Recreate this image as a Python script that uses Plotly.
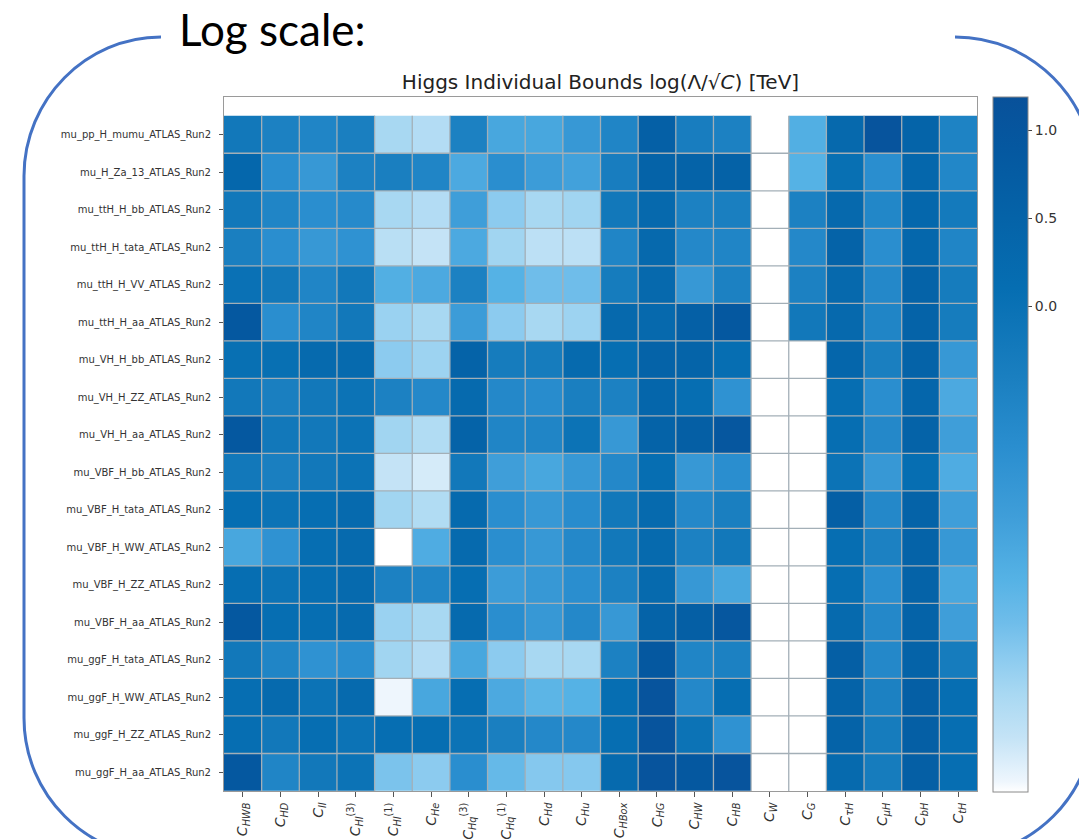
import plotly.graph_objects as go

# ---------------- data ----------------
rows = [
    "mu_pp_H_mumu_ATLAS_Run2", "mu_H_Za_13_ATLAS_Run2", "mu_ttH_H_bb_ATLAS_Run2",
    "mu_ttH_H_tata_ATLAS_Run2", "mu_ttH_H_VV_ATLAS_Run2", "mu_ttH_H_aa_ATLAS_Run2",
    "mu_VH_H_bb_ATLAS_Run2", "mu_VH_H_ZZ_ATLAS_Run2", "mu_VH_H_aa_ATLAS_Run2",
    "mu_VBF_H_bb_ATLAS_Run2", "mu_VBF_H_tata_ATLAS_Run2", "mu_VBF_H_WW_ATLAS_Run2",
    "mu_VBF_H_ZZ_ATLAS_Run2", "mu_VBF_H_aa_ATLAS_Run2", "mu_ggF_H_tata_ATLAS_Run2",
    "mu_ggF_H_WW_ATLAS_Run2", "mu_ggF_H_ZZ_ATLAS_Run2", "mu_ggF_H_aa_ATLAS_Run2",
]

cols = [
    "<i>C</i><sub><i>HWB</i></sub>", "<i>C</i><sub><i>HD</i></sub>", "<i>C</i><sub><i>ll</i></sub>",
    "<i>C</i><sub><i>Hl</i></sub><sup>(3)</sup>", "<i>C</i><sub><i>Hl</i></sub><sup>(1)</sup>",
    "<i>C</i><sub><i>He</i></sub>", "<i>C</i><sub><i>Hq</i></sub><sup>(3)</sup>",
    "<i>C</i><sub><i>Hq</i></sub><sup>(1)</sup>", "<i>C</i><sub><i>Hd</i></sub>",
    "<i>C</i><sub><i>Hu</i></sub>", "<i>C</i><sub><i>HBox</i></sub>", "<i>C</i><sub><i>HG</i></sub>",
    "<i>C</i><sub><i>HW</i></sub>", "<i>C</i><sub><i>HB</i></sub>", "<i>C</i><sub><i>W</i></sub>",
    "<i>C</i><sub><i>G</i></sub>", "<i>C</i><sub><i>τH</i></sub>", "<i>C</i><sub><i>μH</i></sub>",
    "<i>C</i><sub><i>bH</i></sub>", "<i>C</i><sub><i>tH</i></sub>",
]

N = None  # no bound
values = [
    [-0.2, -0.45, -0.55, -0.4, -2.2, -2.3, -0.45, -1.35, -1.35, -1.05, -0.55, 0.6, -0.35, -0.45, N, -1.5, 0.3, 1.05, 0.45, -0.5],
    [0.35, -0.8, -1.05, -0.45, -0.4, -0.55, -1.4, -0.8, -1.15, -1.25, -0.35, 0.5, 0.5, 0.55, N, -1.55, 0.05, -0.8, 0.35, -0.6],
    [-0.2, -0.55, -0.8, -0.7, -2.2, -2.3, -1.2, -2.0, -2.2, -2.15, -0.2, 0.3, -0.45, -0.4, N, -0.45, 0.3, -0.6, 0.35, -0.25],
    [-0.4, -0.8, -1.05, -0.9, -2.35, -2.45, -1.4, -2.15, -2.38, -2.38, -0.55, 0.3, -0.65, -0.55, N, -0.65, 0.5, -0.8, 0.35, -0.55],
    [0.0, -0.2, -0.55, -0.2, -1.5, -1.4, -0.45, -1.55, -1.8, -1.8, -0.3, 0.3, -1.05, -0.45, N, -0.45, 0.3, -0.65, 0.5, -0.3],
    [0.9, -0.8, -0.55, -0.2, -2.1, -2.2, -1.15, -2.0, -2.2, -2.12, 0.3, 0.3, 0.6, 0.9, N, -0.2, 0.3, -0.55, 0.5, -0.3],
    [0.05, 0.05, 0.25, 0.25, -2.0, -2.12, 0.5, -0.3, -0.3, 0.25, 0.1, 0.5, 0.45, 0.1, N, N, 0.4, -0.4, 0.5, -1.05],
    [-0.2, -0.4, -0.2, -0.05, -0.45, -0.65, 0.25, -0.65, -0.75, -0.4, -0.45, 0.4, 0.1, -0.9, N, N, 0.1, -0.8, 0.4, -1.4],
    [0.9, -0.2, -0.2, -0.05, -2.15, -2.28, 0.5, -0.55, -0.55, -0.05, -1.05, 0.5, 0.65, 0.95, N, N, 0.1, -0.65, 0.5, -1.2],
    [-0.2, -0.4, -0.2, -0.05, -2.45, -2.55, -0.2, -1.2, -1.35, -1.05, -0.65, 0.1, -1.05, -0.8, N, N, -0.05, -1.05, 0.1, -1.45],
    [0.1, -0.05, 0.1, 0.25, -2.15, -2.28, 0.25, -0.8, -1.05, -0.75, -0.2, 0.25, -0.65, -0.4, N, N, 0.65, -0.65, 0.5, -1.2],
    [-1.35, -0.9, 0.1, 0.25, N, -1.45, 0.25, -0.8, -1.05, -0.65, -0.2, 0.25, -0.45, -0.2, N, N, 0.1, -0.45, 0.5, -1.05],
    [0.1, -0.05, 0.1, 0.25, -0.45, -0.55, 0.1, -1.15, -1.05, -0.8, -0.45, 0.25, -1.05, -1.35, N, N, 0.1, -0.8, 0.5, -1.35],
    [0.9, 0.1, 0.1, 0.25, -2.1, -2.2, 0.25, -0.8, -1.05, -0.65, -1.05, 0.5, 0.65, 0.95, N, N, 0.25, -0.65, 0.5, -1.2],
    [-0.2, -0.55, -0.9, -0.8, -2.15, -2.3, -1.35, -2.0, -2.2, -2.2, -0.45, 0.9, -0.55, -0.45, N, N, 0.65, -0.65, 0.5, -0.3],
    [0.1, 0.25, -0.05, 0.25, -2.7, -1.35, 0.1, -1.4, -1.62, -1.55, 0.1, 1.05, -0.65, 0.1, N, N, 0.5, -0.45, 0.65, 0.1],
    [0.1, -0.2, 0.1, -0.05, 0.1, 0.1, -0.05, -0.4, -0.65, -0.65, 0.1, 1.05, -0.05, -0.9, N, N, 0.5, -0.3, 0.65, 0.1],
    [0.9, -0.55, -0.2, -0.05, -1.88, -2.0, -0.8, -1.7, -1.95, -1.95, 0.25, 1.05, 0.9, 1.05, N, N, 0.25, -0.3, 0.65, 0.1],
]

cbar_ticks = [0.0, 0.5, 1.0]
cbar_ticktext = ["0.0", "0.5", "1.0"]

# ---------------- style ----------------
ZMIN, ZMAX = -2.76, 1.19
scale_points = [(-2.76, "#ffffff"), (-2.7, "#eef6fd"), (-2.45, "#c4e3f6"), (-2.2, "#a8d8f2"),
                (-2.0, "#8ccbef"), (-1.8, "#6fbdea"), (-1.55, "#55b2e5"), (-1.2, "#3f9ed9"),
                (-0.8, "#2a8ecf"), (-0.4, "#1a7fc0"), (0.1, "#066eb2"), (0.5, "#0563a8"),
                (0.9, "#0558a0"), (1.19, "#08519a")]
colorscale = [[(z - ZMIN) / (ZMAX - ZMIN), c] for z, c in scale_points]

FW, FH = 1079, 839
ML, MR, MT, MB = 224, 102, 97, 48


def px(x):
    return (x - ML) / (FW - ML - MR)


def py(y):
    return 1 - (y - MT) / (FH - MT - MB)


nrows, ncols = len(rows), len(cols)

fig = go.Figure(go.Heatmap(
    z=values,
    x=list(range(ncols)),
    y=list(range(nrows)),
    zmin=ZMIN, zmax=ZMAX,
    colorscale=colorscale,
    colorbar=dict(
        x=px(993), xanchor="left", xpad=0, y=py(97), yanchor="top", ypad=0,
        len=(792 - 97) / (FH - MT - MB), lenmode="fraction",
        thickness=35, thicknessmode="pixels",
        outlinecolor="#8a8a8a", outlinewidth=1,
        tickmode="array", tickvals=cbar_ticks, ticktext=cbar_ticktext,
        ticks="outside", ticklen=4, tickcolor="#444",
        tickfont=dict(family="DejaVu Sans", size=14, color="#333"),
    ),
    hoverongaps=False,
))

shapes = []
grid_style = dict(color="#a3afb7", width=1.3)
for i in range(1, ncols):
    shapes.append(dict(type="line", xref="x", yref="y", x0=i - 0.5, x1=i - 0.5,
                       y0=-0.5, y1=nrows - 0.5, line=grid_style, layer="above"))
for j in range(1, nrows):
    shapes.append(dict(type="line", xref="x", yref="y", x0=-0.5, x1=ncols - 0.5,
                       y0=j - 0.5, y1=j - 0.5, line=grid_style, layer="above"))

# slide rounded frame (partially hidden at top by the chart picture)
r = 139
k = 0.5523 * r
L, R, T, B = 24, 1094, 37, 857
pts = [
    ("M", [(955, T)]),
    ("C", [(955 + k, T), (R, T + r - k), (R, T + r)]),
    ("L", [(R, B - r)]),
    ("C", [(R, B - r + k), (R - r + k, B), (R - r, B)]),
    ("L", [(L + r, B)]),
    ("C", [(L + r - k, B), (L, B - r + k), (L, B - r)]),
    ("L", [(L, T + r)]),
    ("C", [(L, T + r - k), (L + r - k, T), (L + r - 2, T)]),
]
path = " ".join(cmd + " " + " ".join(f"{px(x):.5f},{py(y):.5f}" for x, y in p) for cmd, p in pts)
shapes.append(dict(type="path", xref="paper", yref="paper", path=path,
                   line=dict(color="#4472c4", width=3), layer="above"))

fig.update_layout(
    width=FW, height=FH,
    margin=dict(l=ML, r=MR, t=MT, b=MB, autoexpand=False),
    paper_bgcolor="white", plot_bgcolor="white",
    shapes=shapes,
    title=dict(text="Higgs Individual Bounds log(Λ/√<i>C</i>) [TeV]",
               x=0.5, xref="paper", xanchor="center",
               y=1 - 82 / FH, yref="container", yanchor="middle",
               font=dict(family="DejaVu Sans", size=20, color="#222")),
    xaxis=dict(range=[-0.5, ncols - 0.5], tickmode="array", tickvals=list(range(ncols)),
               ticktext=cols, tickangle=-90, ticks="outside", ticklen=5, tickcolor="#555",
               tickfont=dict(family="DejaVu Sans", size=14, color="#333"),
               showgrid=False, zeroline=False, showline=True, mirror=True,
               linecolor="#9a9a9a", linewidth=1, automargin=False),
    yaxis=dict(range=[nrows - 0.5, -1.0], tickmode="array", tickvals=list(range(nrows)),
               ticktext=rows, ticks="outside", ticklen=4, tickcolor="#555",
               ticklabelstandoff=6,
               tickfont=dict(family="DejaVu Sans", size=10, color="#333"),
               showgrid=False, zeroline=False, showline=True, mirror=True,
               linecolor="#9a9a9a", linewidth=1, automargin=False),
    annotations=[dict(text="Log scale:", xref="paper", yref="paper",
                      x=px(177), xanchor="left", y=py(29), yanchor="middle",
                      showarrow=False, font=dict(family="Lato", size=44, color="black"))],
)

fig.write_html("out.html")
